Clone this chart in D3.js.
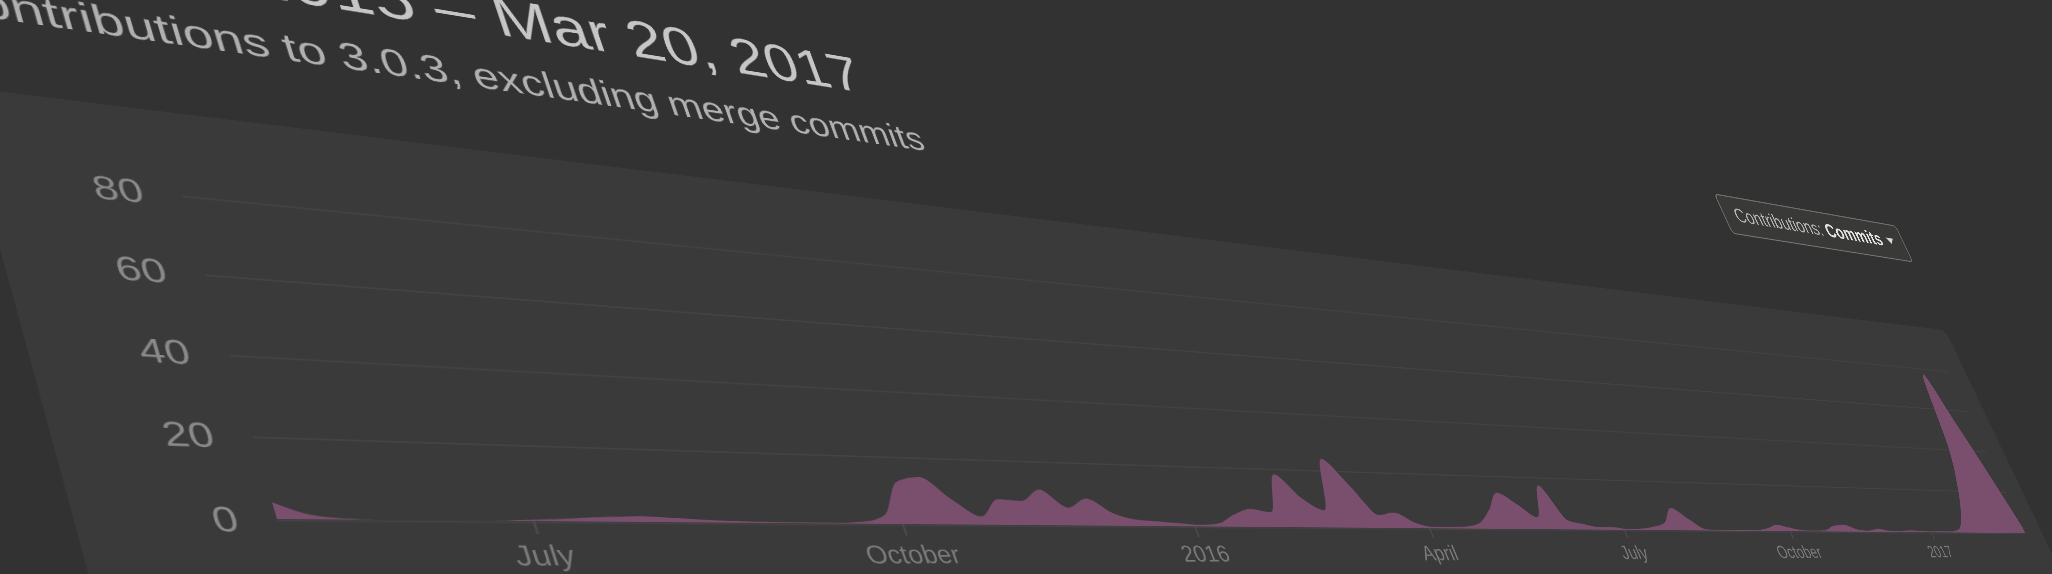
<!DOCTYPE html>
<html><head><meta charset="utf-8">
<script src="https://cdn.jsdelivr.net/npm/d3@7"></script>
<style>
html,body{margin:0;padding:0;background:#323232;overflow:hidden;width:2052px;height:574px;}
#stage{position:absolute;left:0;top:0;transform-origin:0 0;}
text{font-family:"Liberation Sans",Arial,Helvetica,sans-serif;}
</style></head><body>
<svg id="stage"></svg>
<script>
// ---- data ----
const weekStart = "2015-05-10";
const commits = [
  4,1,0.2,0,0,0,0,0.2,0.5,0.9,
  1.3,1.5,1.2,0.8,0.5,0.3,0.2,0.2,0.2,0.5,
  2.5,12.5,14,7.5,2.5,7.8,7.4,11,5.5,8.5,
  4,2,1.5,1,0.5,1,4,6,5,18,
  10,6,24,15,4.5,5.5,2,0.5,0.5,0.7,
  2,7,13.5,9.3,4.5,16.7,3.5,2.1,1,1,
  0.3,0.5,1.3,3,9,4.5,0.5,0.2,0.2,0.2,
  0.3,1,2.6,1.5,0.5,0.3,0.5,2.5,3,1,
  0.5,1.4,0.5,0.4,0.8,0.6,0.4,0.5,0.5,1.5,
  9,22,41,77,55,30,3
];
const yTicks = [0,20,40,60,80];
const yMax = 80;
const titleText = "May 10, 2015 \u2013 Mar 20, 2017";
const subtitleText = "Contributions to 3.0.3, excluding merge commits";
const menuLabel = "Contributions:";
const menuValue = "Commits";

// ---- flat layout (plot origin at 0,0) ----
const PW = 1000, PH = 118, K = 3;
const VX = -75, VY = -135, VW = 1125, VH = 345;

const svg = d3.select("#stage")
  .attr("width", VW*K).attr("height", VH*K)
  .attr("viewBox", `${VX} ${VY} ${VW} ${VH}`);

// perspective: plot rectangle corners as seen on screen (TL, TR, BR, BL)
const quad = [[182,195],[1948,371],[2025,533],[277,519]];
function squareToQuad(q){
  const [x0,y0]=q[0],[x1,y1]=q[1],[x2,y2]=q[2],[x3,y3]=q[3];
  const dx1=x1-x2, dx2=x3-x2, dx3=x0-x1+x2-x3;
  const dy1=y1-y2, dy2=y3-y2, dy3=y0-y1+y2-y3;
  const den=dx1*dy2-dx2*dy1;
  const g=(dx3*dy2-dx2*dy3)/den, h=(dx1*dy3-dx3*dy1)/den;
  return {a:x1-x0+g*x1, b:x3-x0+h*x3, c:x0, d:y1-y0+g*y1, e:y3-y0+h*y3, f:y0, g, h};
}
(function applyPerspective(){
  const H=squareToQuad(quad);
  const n1=1/(K*PW), n3=VX/PW, n5=1/(K*PH), n6=VY/PH;
  const M00=H.a*n1, M01=H.b*n5, M02=H.a*n3+H.b*n6+H.c;
  const M10=H.d*n1, M11=H.e*n5, M12=H.d*n3+H.e*n6+H.f;
  const M20=H.g*n1, M21=H.h*n5, M22=H.g*n3+H.h*n6+1;
  const m=[M00/M22,M10/M22,0,M20/M22, M01/M22,M11/M22,0,M21/M22, 0,0,1,0, M02/M22,M12/M22,0,1];
  document.getElementById("stage").style.transform=`matrix3d(${m.join(",")})`;
})();

// ---- box ----
svg.append("rect").attr("x",-54).attr("y",-32).attr("width",1074).attr("height",230)
  .attr("rx",6).attr("fill","#3a3a3a");

// ---- header ----
svg.append("text").attr("x",269).attr("y",-85.5).attr("font-size",25)
  .attr("text-anchor","end")
  .attr("font-family",'Roboto,"Liberation Sans",Arial,sans-serif').attr("font-weight",300)
  .attr("fill","#c6c6c6").text(titleText);
svg.append("text").attr("x",-54).attr("y",-60).attr("font-size",16)
  .attr("fill","#b0b0b0").text(subtitleText);

const btn = svg.append("g");
btn.append("rect").attr("x",834).attr("y",-111.5).attr("width",186).attr("height",27.5)
  .attr("rx",3).attr("fill","#393937").attr("stroke","#74726c").attr("stroke-width",0.9);
const bt = btn.append("text").attr("x",845).attr("y",-93.6).attr("font-size",14);
bt.append("tspan").attr("fill","#b5b5b5").text(menuLabel + " ");
bt.append("tspan").attr("fill","#e2e2e2").attr("font-weight","bold").text(menuValue);
btn.append("path").attr("d","M1001,-100.5 L1009,-100.5 L1005,-96 Z").attr("fill","#d8d8d8");

// ---- scales ----
const t0 = d3.timeParse("%Y-%m-%d")(weekStart);
const dates = commits.map((_,i)=>d3.timeWeek.offset(t0,i));
const x = d3.scaleTime().domain([dates[0], dates[dates.length-1]]).range([0,PW]);
const y = d3.scaleLinear().domain([0,yMax]).range([PH,0]);

// ---- grid + y axis ----
const gy = svg.append("g").call(d3.axisLeft(y).tickValues(yTicks).tickSize(-PW).tickPadding(11));
gy.select(".domain").remove();
gy.selectAll(".tick line").attr("stroke","#434343").attr("stroke-width",0.7);
gy.selectAll(".tick text").attr("fill","#8a8a8a").attr("font-size",12.3)
  .attr("font-family",'"Liberation Sans",Arial,sans-serif');

// ---- area ----
svg.append("path").datum(commits)
  .attr("fill","#7a4f6e")
  .attr("d", d3.area().x((d,i)=>x(dates[i])).y0(y(0)).y1(d=>y(d)).curve(d3.curveMonotoneX));

// ---- x axis ----
const gx = svg.append("g").attr("transform",`translate(0,${PH})`)
  .call(d3.axisBottom(x).ticks(d3.timeMonth.every(3)).tickSize(5).tickPadding(4));
gx.select(".domain").remove();
gx.selectAll(".tick line").attr("stroke","#4c4c4c").attr("stroke-width",0.8);
gx.selectAll(".tick text").attr("fill","#7a7a7a").attr("font-size",11)
  .attr("font-family",'"Liberation Sans",Arial,sans-serif');
</script>
</body></html>
